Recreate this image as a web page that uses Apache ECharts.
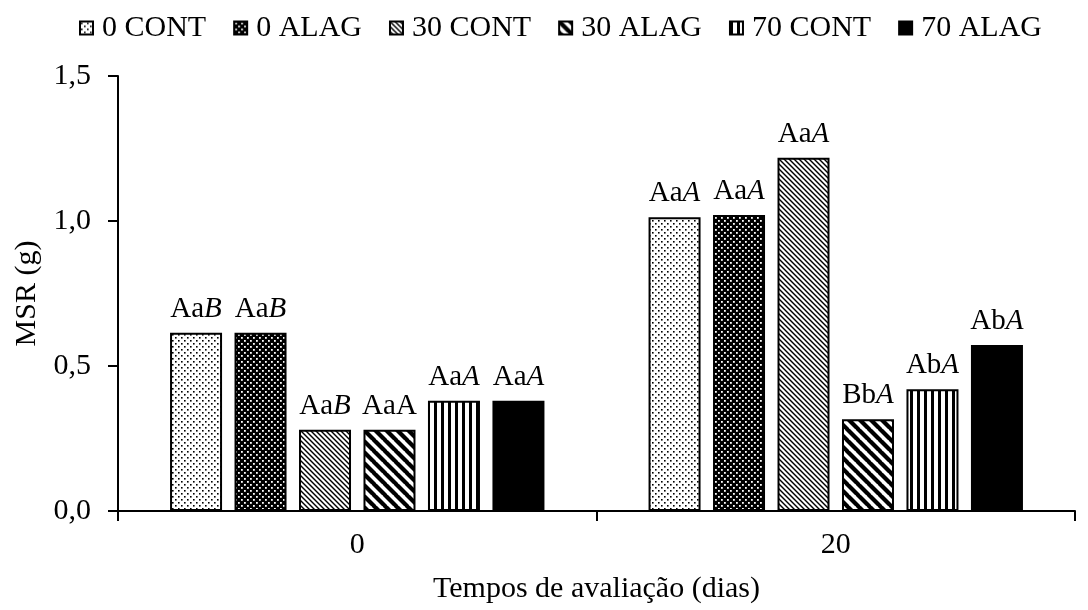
<!DOCTYPE html>
<html>
<head>
<meta charset="utf-8">
<script src="https://cdn.jsdelivr.net/npm/echarts@6/dist/echarts.min.js"></script>
<style>
html,body{margin:0;padding:0;background:#fff;}
#chart{width:1088px;height:610px;}
</style>
</head>
<body>
<div id="chart"></div>
<script>
// ---- data ----
const categories = ['0', '20'];
const seriesNames = ['0 CONT', '0 ALAG', '30 CONT', '30 ALAG', '70 CONT', '70 ALAG'];
const cont0  = [0.615, 1.013];
const alag0  = [0.615, 1.021];
const cont30 = [0.28, 1.218];
const alag30 = [0.28, 0.316];
const cont70 = [0.38, 0.42];
const alag70 = [0.38, 0.572];
// letter labels: upright part and italic part
const labUp = [
  ['Aa', 'Aa'],
  ['Aa', 'Aa'],
  ['Aa', 'Aa'],
  ['AaA', 'Bb'],
  ['Aa', 'Ab'],
  ['Aa', 'Ab']
];
const labIt = [
  ['B', 'A'],
  ['B', 'A'],
  ['B', 'A'],
  ['', 'A'],
  ['A', 'A'],
  ['A', 'A']
];
const yTicks = ['0,0', '0,5', '1,0', '1,5'];

// ---- patterns ----
function makeTile(w, h, draw) {
  const c = document.createElement('canvas');
  c.width = w; c.height = h;
  const g = c.getContext('2d');
  draw(g, w, h);
  return { image: c, repeat: 'repeat' };
}
const patLightDots = makeTile(6, 6, (g, w, h) => {
  g.fillStyle = '#fff'; g.fillRect(0, 0, w, h);
  g.fillStyle = '#000';
  g.fillRect(1, 1, 1.6, 1.6);
  g.fillRect(4, 4, 1.6, 1.6);
});
const patDarkDots = makeTile(6, 6, (g, w, h) => {
  g.fillStyle = '#000'; g.fillRect(0, 0, w, h);
  g.fillStyle = '#fff';
  g.fillRect(1, 1, 1.8, 1.8);
  g.fillRect(4, 4, 1.8, 1.8);
});
function diagTile(p, lw, bg, fg) {
  return makeTile(p, p, (g, w, h) => {
    g.fillStyle = bg; g.fillRect(0, 0, w, h);
    g.strokeStyle = fg; g.lineWidth = lw;
    for (let k = -1; k <= 1; k++) {
      g.beginPath();
      g.moveTo(k * p - 1, -1);
      g.lineTo(k * p + p + 1, p + 1);
      g.stroke();
    }
  });
}
const patFineDiag = diagTile(5, 1.4, '#fff', '#000');
const patWideDiag = diagTile(11, 4.2, '#fff', '#000');
const patVert = makeTile(7, 4, (g, w, h) => {
  g.fillStyle = '#fff'; g.fillRect(0, 0, w, h);
  g.fillStyle = '#000'; g.fillRect(0, 0, 3, h);
});
const fills = [patLightDots, patDarkDots, patFineDiag, patWideDiag, patVert, '#000'];
const values = [cont0, alag0, cont30, alag30, cont70, alag70];

const FONT = "'Liberation Serif', 'Times New Roman', serif";

const series = seriesNames.map((name, si) => ({
  name: name,
  type: 'bar',
  barWidth: 52,
  barGap: '24%',
  data: values[si],
  itemStyle: { color: fills[si], borderColor: '#000', borderWidth: 2 },
  label: {
    show: true,
    position: 'top',
    distance: 9,
    formatter: (p) => {
      const up = labUp[si][p.dataIndex];
      const it = labIt[si][p.dataIndex];
      return '{u|' + up + '}' + (it ? '{i|' + it + '}' : '');
    },
    rich: {
      u: { fontFamily: FONT, fontSize: 29, color: '#000' },
      i: { fontFamily: FONT, fontSize: 29, fontStyle: 'italic', color: '#000' }
    }
  }
}));

const chart = echarts.init(document.getElementById('chart'), null, { renderer: 'canvas' });
chart.setOption({
  animation: false,
  backgroundColor: '#fff',
  textStyle: { fontFamily: FONT, color: '#000' },
  legend: {
    top: 8,
    left: 74,
    icon: 'rect',
    itemWidth: 13,
    itemHeight: 13,
    itemGap: 27,
    itemStyle: { borderColor: '#000', borderWidth: 2 },
    textStyle: { fontFamily: FONT, fontSize: 30, color: '#000', padding: [0, 0, 0, 4] },
    data: seriesNames
  },
  grid: { left: 118, top: 76, width: 957, height: 435, containLabel: false },
  xAxis: {
    type: 'category',
    data: categories,
    name: 'Tempos de avaliação (dias)',
    nameLocation: 'middle',
    nameGap: 63,
    nameTextStyle: { fontFamily: FONT, fontSize: 30, color: '#000' },
    axisLine: { lineStyle: { color: '#000', width: 2 } },
    axisTick: { show: true, length: 10, lineStyle: { color: '#000', width: 2 } },
    axisLabel: { fontFamily: FONT, fontSize: 30, color: '#000', margin: 19 }
  },
  yAxis: {
    type: 'value',
    min: 0,
    max: 1.5,
    interval: 0.5,
    name: 'MSR (g)',
    nameLocation: 'middle',
    nameGap: 76,
    nameTextStyle: { fontFamily: FONT, fontSize: 30, color: '#000' },
    splitLine: { show: false },
    axisLine: { show: true, lineStyle: { color: '#000', width: 2 } },
    axisTick: { show: true, length: 10, lineStyle: { color: '#000', width: 2 } },
    axisLabel: {
      fontFamily: FONT, fontSize: 30, color: '#000', margin: 27,
      formatter: (v) => yTicks[Math.round(v / 0.5)]
    }
  },
  series: series
});
</script>
</body>
</html>
